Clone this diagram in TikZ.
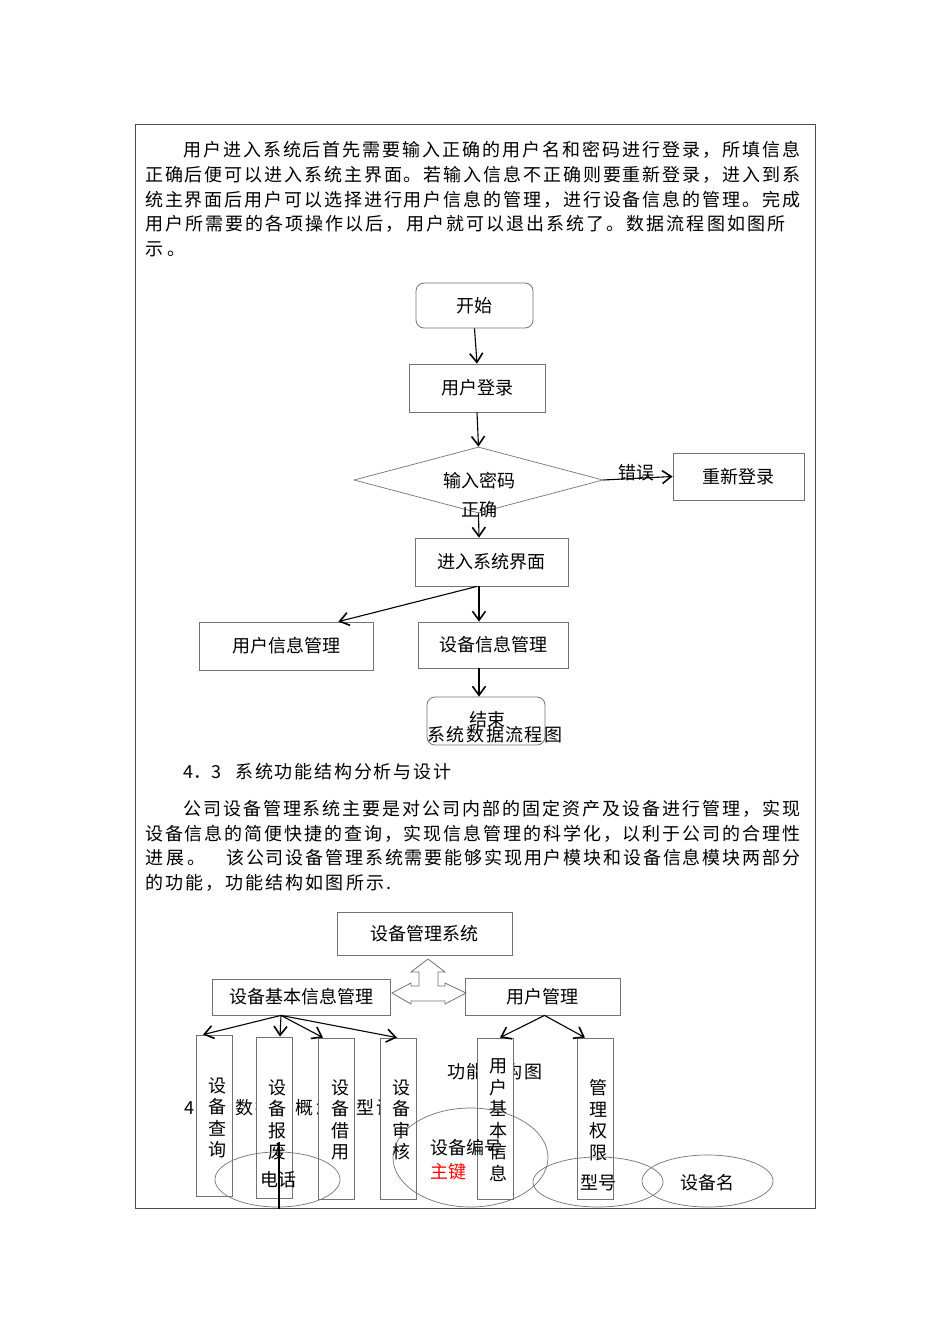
\documentclass[tikz,border=0pt]{standalone}
\usepackage{fontspec}
\setmainfont{Noto Sans CJK SC}
\usetikzlibrary{arrows.meta,shapes.geometric,calc}
\def\spr#1{#1\sprx}
\def\sprx#1{\ifx#1\relax\else\hfil#1\expandafter\sprx\fi}
\newcommand{\jl}[2]{\hbox to #1pt{\spr #2\relax}}
\begin{document}
\begin{tikzpicture}[x=1pt,y=-1pt,
  every node/.style={inner sep=0pt, font=\fontsize{18}{21}\selectfont},
  box/.style={draw=black!55, line width=0.8pt, rectangle},
  rbox/.style={box, rounded corners=8pt},
  conn/.style={line width=1.1pt, -{Straight Barb[length=9pt,width=13pt,line width=1.6pt]}},
  vbox/.style={box, fill=white, minimum width=36pt, minimum height=161pt},
  vtext/.style={align=center, font=\fontsize{18}{21.5}\selectfont},
  ell/.style={draw=black!55, line width=0.7pt, ellipse, minimum width=#1},
  para/.style={anchor=west}]
\useasboundingbox (0,0) rectangle (950,1344);
\fill[white] (0,0) rectangle (950,1344);
% frame
\draw[black!70, line width=1pt] (135,124) rectangle (815,1208);

% paragraph 1
\node[para] at (183,150) {\jl{617}{用户进入系统后首先需要输入正确的用户名和密码进行登录，所填信息}};
\node[para] at (145,175) {\jl{655}{正确后便可以进入系统主界面。若输入信息不正确则要重新登录，进入到系}};
\node[para] at (145,200) {\jl{655}{统主界面后用户可以选择进行用户信息的管理，进行设备信息的管理。完成}};
\node[para] at (145,224) {\jl{640}{用户所需要的各项操作以后，用户就可以退出系统了。数据流程图如图所}};
\node[para] at (145,249) {\jl{40}{示。}};

% flowchart
\coordinate (axis) at (479,0);
\node[rbox, minimum width=117pt, minimum height=45pt] (kaishi) at (474.5,305.5) {开始};
\node[box, minimum width=136pt, minimum height=48pt] (denglu) at (477,388) {用户登录};
\node[draw=black!55, line width=0.7pt, diamond, minimum width=249pt, minimum height=66pt] (pw) at (478.5,480) {};
\node[align=center, font=\fontsize{18}{29}\selectfont] (pwt) at (479,495) {输入密码\\正确};
\node[box, minimum width=131pt, minimum height=47pt] (chongxin) at (738.5,476.5) {重新登录};
\node[box, minimum width=153pt, minimum height=48pt] (jinru) at (491.5,562) {进入系统界面};
\node[box, minimum width=174pt, minimum height=48pt] (yhxx) at (286,646) {用户信息管理};
\node[box, minimum width=150pt, minimum height=46pt] (sbxx) at (493,645) {设备信息管理};
\node[rbox, minimum width=118pt, minimum height=48pt] (jieshu) at (486,721) {};
\node (jieshut) at (487,720) {结束};
\node (cap1) at (495,735) {\jl{135}{系统数据流程图}};

\draw[conn] (kaishi.south) -- (denglu.north);
\draw[conn] (denglu.south) -- (pw.north);
\draw[conn] (pw.east) -- (chongxin.west);
\node (err) at (636,473) {错误};
\draw[conn] (pw.south) -- (axis |- jinru.north);
\draw[conn] ($(axis |- jinru.south)+(-2,0)$) -- ($(yhxx.north east)+(-35,0)$);
\draw[conn] (axis |- jinru.south) -- (axis |- sbxx.north);
\draw[conn] (axis |- sbxx.south) -- (axis |- jieshu.north);

% section 4.3
\node[para] at (183,772) {\jl{36}{4．3}};
\node[para] at (235,772) {\jl{216}{系统功能结构分析与设计}};
\node[para] at (183,809) {\jl{617}{公司设备管理系统主要是对公司内部的固定资产及设备进行管理，实现}};
\node[para] at (145,834) {\jl{655}{设备信息的简便快捷的查询，实现信息管理的科学化，以利于公司的合理性}};
\node[para] at (145,858) {\jl{60}{进展。}};
\node[para] at (226,858) {\jl{574}{该公司设备管理系统需要能够实现用户模块和设备信息模块两部分}};
\node[para] at (145,883) {\jl{246}{的功能，功能结构如图所示.}};

% structure chart
\node[box, minimum width=175pt, minimum height=43pt] (sys) at (424.5,933.5) {设备管理系统};
\node[box, minimum width=178pt, minimum height=36pt] (sbjb) at (301,997) {设备基本信息管理};
\node[box, minimum width=155pt, minimum height=37pt] (yhgl) at (542.5,996.5) {用户管理};
\draw[black!55, line width=0.8pt] (428,959) -- (445,972) -- (438,972) -- (438,986) -- (445,986) -- (445,983)
  -- (466,993) -- (445,1004) -- (445,1001) -- (411,1001) -- (411,1004) -- (392,993) -- (411,983)
  -- (411,986) -- (419,986) -- (419,972) -- (411,972) -- cycle;

% texts behind the boxes
\node[para] at (184,1108) {\jl{36}{4．4}};
\node[para] at (235,1108) {\jl{180}{数据库概念模型设计}};
\node[para] at (447,1072) {\jl{95}{功能结构图}};

% vertical boxes
\node[vbox] (cx) at (214,1115.5) {};
\node[vtext] at (217,1118) {设\\备\\查\\询};
\node[vbox] (bf) at (274,1117.5) {};
\node[vtext] at (277,1120) {设\\备\\报\\废};
\node[vbox] (jy) at (336,1118.5) {};
\node[vtext] at (340,1120) {设\\备\\借\\用};
\node[vbox] (sh) at (398,1118.5) {};
\node[vtext] at (401,1120) {设\\备\\审\\核};
\node[vbox] (yhjb) at (495,1118.5) {};
\node[vtext] at (498,1120) {用\\户\\基\\本\\信\\息};
\node[vbox] (qx) at (595,1118.5) {};
\node[vtext] at (598,1120) {管\\理\\权\\限};

\coordinate (hub) at ($(sbjb.south)+(-20,0)$);
\draw[conn] (hub) -- ($(cx.north)+(-11,0)$);
\draw[conn] (hub) -- ($(bf.north)+(6,0)$);
\draw[conn] (hub) -- ($(jy.north)+(-13,0)$);
\draw[conn] (hub) -- ($(sh.north)+(-1,0)$);
\coordinate (hub2) at ($(yhgl.south)+(2,0)$);
\draw[conn] (hub2) -- ($(yhjb.north)+(5,0)$);
\draw[conn] (hub2) -- ($(qx.north)+(-10,0)$);

% ellipses
\node[ell=125pt, minimum height=55pt] (e1) at (277.5,1179.5) {};
\node (e1t) at (278,1180) {电话};
\node[ell=155pt, minimum height=99pt] (e2) at (470.5,1157.5) {};
\node[para] (e2t) at (430,1148) {设备编号};
\node[para, text=red] (e2k) at (430,1172) {主键};
\node[ell=130pt, minimum height=50pt] (e3) at (598,1182) {};
\node (e3t) at (598,1183) {型号};
\node[ell=131pt, minimum height=52pt] (e4) at (707.5,1181) {};
\node (e4t) at (707,1183) {设备名};
\coordinate (vl1) at (279,1142);
\coordinate (vl2) at (279,1209);
\draw[line width=1.1pt] (vl1) -- (vl2);
\end{tikzpicture}
\end{document}
